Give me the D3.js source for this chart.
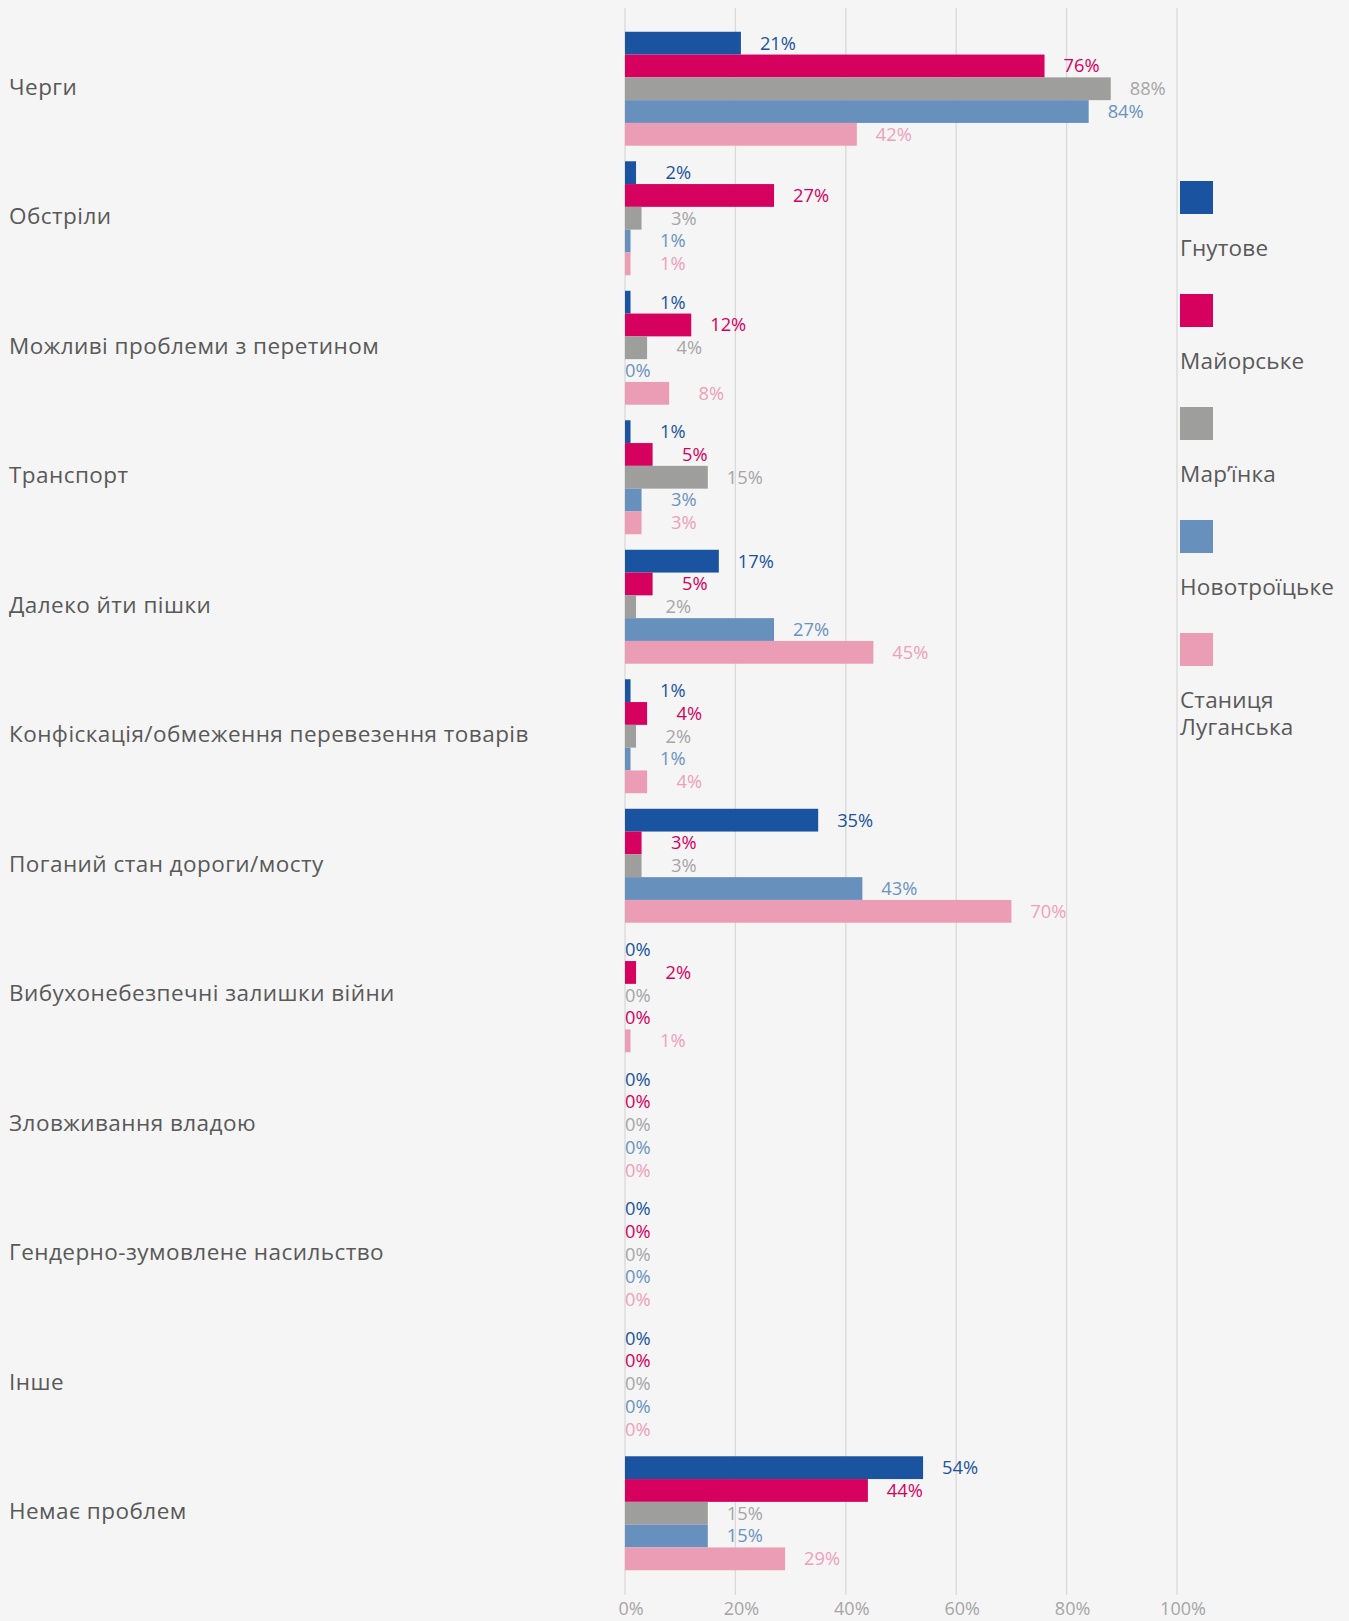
<!DOCTYPE html>
<html>
<head>
<meta charset="utf-8">
<script src="https://cdn.jsdelivr.net/npm/d3@7"></script>
<style>
    html, body { margin: 0; padding: 0; background: #f5f5f5; }
    svg { display: block; font-family: "Open Sans", "Noto Sans", sans-serif; }
</style>
</head>
<body>
<div id="chart"></div>
<script>
const categories = [
    "Черги",
    "Обстріли",
    "Можливі проблеми з перетином",
    "Транспорт",
    "Далеко йти пішки",
    "Конфіскація/обмеження перевезення товарів",
    "Поганий стан дороги/мосту",
    "Вибухонебезпечні залишки війни",
    "Зловживання владою",
    "Гендерно-зумовлене насильство",
    "Інше",
    "Немає проблем"
];

const seriesNames = ["Гнутове", "Майорське", "Мар’їнка", "Новотроїцьке", "Станиця Луганська"];

const hnutove        = [21, 2, 1, 1, 17, 1, 35, 0, 0, 0, 0, 54];
const maiorske       = [76, 27, 12, 5, 5, 4, 3, 2, 0, 0, 0, 44];
const marinka        = [88, 3, 4, 15, 2, 2, 3, 0, 0, 0, 0, 15];
const novotroitske   = [84, 1, 0, 3, 27, 1, 43, 0, 0, 0, 0, 15];
const stanytsia      = [42, 1, 8, 3, 45, 4, 70, 1, 0, 0, 0, 29];

const xTicks = [0, 20, 40, 60, 80, 100];

function drawChart() {
    const W = 1349, H = 1621;
    const values = [hnutove, maiorske, marinka, novotroitske, stanytsia];
    const barColors = ["#1a53a0", "#d6005e", "#9e9e9d", "#6791bc", "#ec9db6"];
    const labelColors = ["#1a53a0", "#d6005e", "#a6a6a6", "#6b93c0", "#efa0b8"];

    const rows = [];
    categories.forEach((c, ci) => {
        seriesNames.forEach((s, si) => {
            rows.push({ cat: c, series: s, si, value: values[si][ci] });
        });
    });

    const x = d3.scaleLinear().domain([0, 100]).range([625, 1177]);
    const y = d3.scaleBand().domain(categories).range([24, 1578])
        .paddingInner(0.12).paddingOuter(0.06);
    const ySub = d3.scaleBand().domain(seriesNames).range([0, y.bandwidth()]);

    const svg = d3.select("#chart").append("svg")
        .attr("width", W).attr("height", H);

    svg.append("rect").attr("width", W).attr("height", H).attr("fill", "#f5f5f5");

    // gridlines
    svg.append("g").selectAll("line")
        .data(xTicks)
        .enter().append("line")
        .attr("x1", d => x(d)).attr("x2", d => x(d))
        .attr("y1", 8).attr("y2", 1595)
        .attr("stroke", "#d9d9d9").attr("stroke-width", 1.3);

    // x tick labels
    svg.append("g").selectAll("text")
        .data(xTicks)
        .enter().append("text")
        .attr("x", d => x(d) + 6)
        .attr("y", 1609)
        .attr("dy", "0.35em")
        .attr("text-anchor", "middle")
        .attr("fill", "#a6a6a6")
        .style("font-size", "18px")
        .text(d => d + "%");

    // category labels
    svg.append("g").selectAll("text")
        .data(categories)
        .enter().append("text")
        .attr("x", 9)
        .attr("y", d => y(d) + y.bandwidth() / 2 - 2)
        .attr("dy", "0.35em")
        .attr("fill", "#595959")
        .style("font-size", "22.5px")
        .style("letter-spacing", "0.45px")
        .text(d => d);

    // bars
    svg.append("g").selectAll("rect")
        .data(rows)
        .enter().append("rect")
        .attr("x", x(0))
        .attr("y", d => y(d.cat) + ySub(d.series))
        .attr("width", d => x(d.value) - x(0))
        .attr("height", ySub.bandwidth())
        .attr("fill", d => barColors[d.si]);

    // data labels: right-aligned just outside the bar end, zeros sit on the axis
    svg.append("g").selectAll("text")
        .data(rows)
        .enter().append("text")
        .attr("x", d => d.value === 0 ? x(0) : x(d.value) + 55)
        .attr("text-anchor", d => d.value === 0 ? "start" : "end")
        .attr("y", d => y(d.cat) + ySub(d.series) + ySub.bandwidth() / 2)
        .attr("dy", "0.35em")
        .attr("fill", d => (d.cat === "Вибухонебезпечні залишки війни" && d.si === 3) ? labelColors[1] : labelColors[d.si])
        .style("font-size", "18.3px")
        .text(d => d.value + "%");

    // legend
    const legend = svg.append("g").selectAll("g")
        .data(seriesNames)
        .enter().append("g")
        .attr("transform", (d, i) => `translate(1180,${181 + i * 113})`);

    legend.append("rect")
        .attr("width", 33).attr("height", 33)
        .attr("fill", (d, i) => barColors[i]);

    legend.append("text")
        .attr("fill", "#595959")
        .style("font-size", "22.5px")
        .style("letter-spacing", "0.2px")
        .selectAll("tspan")
        .data(d => d.split(" "))
        .enter().append("tspan")
        .attr("x", 0)
        .attr("y", (d, i) => 67 + i * 27)
        .attr("dy", "0.35em")
        .text(d => d);
}

drawChart();
</script>
</body>
</html>
